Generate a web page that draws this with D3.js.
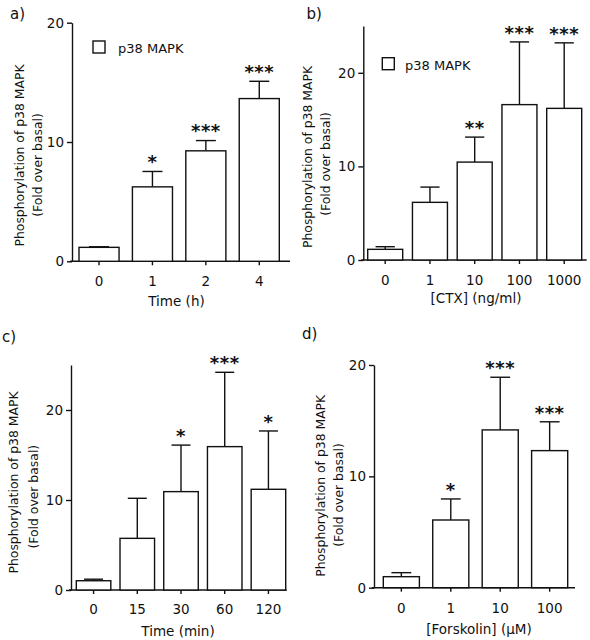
<!DOCTYPE html>
<html>
<head>
<meta charset="utf-8">
<script src="https://cdn.jsdelivr.net/npm/d3@7"></script>
<style>
  html, body { margin: 0; padding: 0; background: #fff; }
  svg { display: block; }
  text { font-family: "DejaVu Sans", Verdana, sans-serif; fill: #111; }
</style>
</head>
<body>
<svg id="chart" width="590" height="640"></svg>
<script>
// ---------- data ----------
const catsA = ["0", "1", "2", "4"];
const meanA = [1.17, 6.24, 9.26, 13.64];
const errA = [0.05, 1.29, 0.86, 1.45];
const starsA = ["", "*", "***", "***"];
const yTicksA = [0, 10, 20];

const catsB = ["0", "1", "10", "100", "1000"];
const meanB = [1.14, 6.16, 10.46, 16.6, 16.2];
const errB = [0.28, 1.63, 2.67, 6.7, 7.0];
const starsB = ["", "", "**", "***", "***"];
const yTicksB = [0, 10, 20];

const catsC = ["0", "15", "30", "60", "120"];
const meanC = [1.03, 5.74, 10.93, 15.93, 11.19];
const errC = [0.17, 4.45, 5.17, 8.26, 6.48];
const starsC = ["", "", "*", "***", "*"];
const yTicksC = [0, 10, 20];

const catsD = ["0", "1", "10", "100"];
const meanD = [0.99, 6.08, 14.17, 12.31];
const errD = [0.36, 1.89, 4.73, 2.59];
const starsD = ["", "*", "***", "***"];
const yTicksD = [0, 10, 20];

const yMax = { a: 20, b: 25, c: 25, d: 20 };
const panelLabels = ["a)", "b)", "c)", "d)"];
const xTitles = ["Time (h)", "[CTX] (ng/ml)", "Time (min)", "[Forskolin] (\u03BCM)"];
const yTitle1 = "Phosphorylation of p38 MAPK";
const yTitle2 = "(Fold over basal)";
const legendLabel = "p38 MAPK";

// ---------- layout (positions only) ----------
const panels = [
  { key: "a", cats: catsA, mean: meanA, err: errA, stars: starsA, ticks: yTicksA,
    yAxisX: 72, yBot: 261.3, yTop: 22.7, band: [79, 279.3], pi: 0.25, axisRight: 290,
    tickPad: 11, title: xTitles[0], titleX: 176.5, titleY: 306,
    label: panelLabels[0], labelX: 10, labelY: 18.5,
    yl1: [23.7, 155.5], yl2: [41.7, 165], legend: [93, 41, 118, 53] },
  { key: "b", cats: catsB, mean: meanB, err: errB, stars: starsB, ticks: yTicksB,
    yAxisX: 363.3, yBot: 260, yTop: 26, band: [367.7, 581.7], pi: 0.218, axisRight: 586.7,
    tickPad: 11, title: xTitles[1], titleX: 476, titleY: 302.5,
    label: panelLabels[1], labelX: 306.5, labelY: 18.5,
    yl1: [311.5, 157], yl2: [330, 164], legend: [382.3, 57.7, 405, 70] },
  { key: "c", cats: catsC, mean: meanC, err: errC, stars: starsC, ticks: yTicksC,
    yAxisX: 71, yBot: 590, yTop: 365, band: [76.3, 285.7], pi: 0.21, axisRight: 286.7,
    tickPad: 10, title: xTitles[2], titleX: 178, titleY: 636,
    label: panelLabels[2], labelX: 2, labelY: 342,
    yl1: [17.7, 482.5], yl2: [37.7, 496.7], legend: null },
  { key: "d", cats: catsD, mean: meanD, err: errD, stars: starsD, ticks: yTicksD,
    yAxisX: 374, yBot: 587.7, yTop: 365, band: [383.3, 567.7], pi: 0.27, axisRight: 575,
    tickPad: 11, title: xTitles[3], titleX: 479, titleY: 634,
    label: panelLabels[3], labelX: 302, labelY: 339,
    yl1: [325.3, 485.8], yl2: [343.4, 495], legend: null }
];

const svg = d3.select("#chart");
const SW = 1.4;
const ink = "#111";
const tickFont = 13.5;
const ylFont = 12.4;
const starFont = 18;

panels.forEach(p => {
  const g = svg.append("g");
  const y = d3.scaleLinear().domain([0, yMax[p.key]]).range([p.yBot, p.yTop]);
  const x = d3.scaleBand().domain(p.cats).range(p.band).paddingInner(p.pi).paddingOuter(0);
  const bw = x.bandwidth();
  const data = p.cats.map((c, i) => ({ c, m: p.mean[i], e: p.err[i], s: p.stars[i] }));

  // y axis
  const ya = g.append("g").attr("transform", `translate(${p.yAxisX},0)`)
    .call(d3.axisLeft(y).tickValues(p.ticks).tickFormat(d3.format("d"))
      .tickSize(5).tickSizeOuter(0).tickPadding(3));
  ya.selectAll("path, line").attr("stroke", ink).attr("stroke-width", SW);
  ya.selectAll("text").attr("font-size", tickFont).attr("fill", ink)
    .style("font-family", '"DejaVu Sans", Verdana, sans-serif');

  // x axis (ticks + labels), with a hand line spanning the plot
  const xa = g.append("g").attr("transform", `translate(0,${p.yBot})`)
    .call(d3.axisBottom(x).tickSize(4).tickSizeOuter(0).tickPadding(p.tickPad));
  xa.select(".domain").remove();
  xa.selectAll("line").attr("stroke", ink).attr("stroke-width", SW);
  xa.selectAll("text").attr("font-size", tickFont).attr("fill", ink).attr("dy", 0)
    .attr("y", p.tickPad + 4 + 10)
    .style("font-family", '"DejaVu Sans", Verdana, sans-serif');
  g.append("line")
    .attr("x1", p.yAxisX - 2).attr("x2", p.axisRight)
    .attr("y1", p.yBot).attr("y2", p.yBot)
    .attr("stroke", ink).attr("stroke-width", SW);

  // error bars (upper only)
  const cap = Math.min(20, bw * 0.55);
  data.forEach(d => {
    const cx = x(d.c) + bw / 2;
    g.append("line").attr("x1", cx).attr("x2", cx)
      .attr("y1", y(d.m)).attr("y2", y(d.m + d.e))
      .attr("stroke", ink).attr("stroke-width", SW);
    g.append("line").attr("x1", cx - cap / 2).attr("x2", cx + cap / 2)
      .attr("y1", y(d.m + d.e)).attr("y2", y(d.m + d.e))
      .attr("stroke", ink).attr("stroke-width", SW);
  });

  // bars
  g.selectAll("rect.bar").data(data).enter().append("rect")
    .attr("class", "bar")
    .attr("x", d => x(d.c)).attr("width", bw)
    .attr("y", d => y(d.m)).attr("height", d => y(0) - y(d.m))
    .attr("fill", "#fff").attr("stroke", ink).attr("stroke-width", SW);

  // significance stars
  g.selectAll("text.star").data(data.filter(d => d.s)).enter().append("text")
    .attr("class", "star")
    .attr("x", d => x(d.c) + bw / 2)
    .attr("y", d => y(d.m + d.e) - 13.5 + 0.575 * starFont)
    .attr("text-anchor", "middle")
    .attr("font-size", starFont)
    .attr("font-weight", "bold")
    .attr("letter-spacing", 0.5)
    .text(d => d.s);

  // x title
  g.append("text").attr("x", p.titleX).attr("y", p.titleY)
    .attr("text-anchor", "middle").attr("font-size", tickFont).text(p.title);

  // y title (two lines)
  g.append("text")
    .attr("transform", `translate(${p.yl1[0]},${p.yl1[1]}) rotate(-90)`)
    .attr("text-anchor", "middle").attr("font-size", ylFont).text(yTitle1);
  g.append("text")
    .attr("transform", `translate(${p.yl2[0]},${p.yl2[1]}) rotate(-90)`)
    .attr("text-anchor", "middle").attr("font-size", ylFont).text(yTitle2);

  // panel label
  g.append("text").attr("x", p.labelX).attr("y", p.labelY)
    .attr("font-size", 15).text(p.label);

  // legend
  if (p.legend) {
    const [sx, sy, tx, ty] = p.legend;
    g.append("rect").attr("x", sx).attr("y", sy).attr("width", 12).attr("height", 12)
      .attr("fill", "#fff").attr("stroke", ink).attr("stroke-width", SW);
    g.append("text").attr("x", tx).attr("y", ty).attr("font-size", 13).text(legendLabel);
  }
});
</script>
</body>
</html>
